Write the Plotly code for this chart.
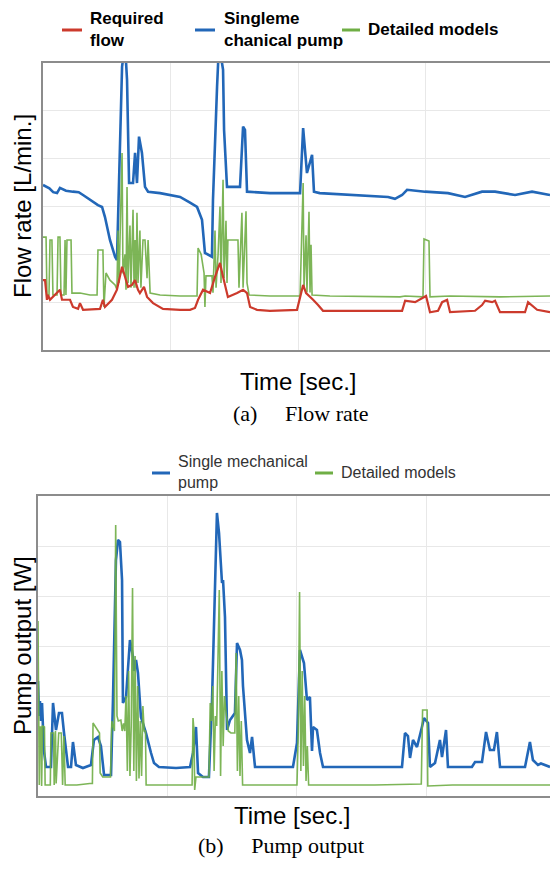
import plotly.graph_objects as go

# ---------------- Data (time in s, values in axis units 0-6) ----------------
# (a) Flow rate
flow_required = [(0, 1.46), (1.6, 1.46), (3.1, 1.05), (3.9, 1.15), (5.5, 1.05), (13.3, 1.26), (14.9, 1.05),
                 (21.2, 1.05), (23.5, 0.90), (27.5, 0.86), (29, 0.98), (31.4, 0.84), (44.7, 0.86), (47, 1.05),
                 (48.6, 0.90), (54.1, 1.05), (58, 1.26), (62, 1.74), (64.3, 1.53), (66.7, 1.32), (69.8, 1.36),
                 (72.2, 1.46), (74.5, 1.26), (76, 1.19), (79.2, 1.32), (81.6, 1.11), (86.3, 0.98), (94.1, 0.86),
                 (107.5, 0.84), (115.3, 0.84), (119.2, 0.88), (121.6, 1.05), (125.5, 1.26), (131, 1.19),
                 (134.9, 1.53), (138.8, 1.82), (141.2, 1.53), (145, 1.11), (152.2, 1.19), (156.9, 1.26),
                 (160, 1.19), (162.4, 0.90), (167.8, 0.84), (178, 0.82), (199.2, 0.84), (204, 1.36),
                 (206.3, 1.19), (208, 1.15), (211.8, 1.05), (215.7, 0.94), (219.6, 0.82), (281.6, 0.82),
                 (284, 1.03), (291.8, 1.00), (298, 1.09), (300.4, 1.13), (303.5, 0.79), (309.8, 0.82),
                 (313, 1.00), (316.9, 1.05), (319.2, 0.79), (338.8, 0.82), (344.3, 0.94), (346.7, 1.03),
                 (352.2, 1.00), (354.5, 1.03), (358.4, 0.79), (378, 0.79), (380.4, 1.00), (387.5, 0.84),
                 (397.6, 0.79)]

flow_single = [(0, 3.45), (5, 3.38), (8, 3.30), (11, 3.28), (13.3, 3.39), (18, 3.33), (23.5, 3.31), (28, 3.30),
               (31.4, 3.24), (36.9, 3.14), (40, 3.10), (43.1, 3.03), (46.3, 2.99), (48.6, 2.78), (52.5, 2.30),
               (56.5, 1.95), (58, 1.88), (59.5, 3.6), (62, 5.92), (64.3, 6.4), (65.9, 5.65), (67.5, 3.49),
               (70.6, 3.49), (72.2, 4.12), (73.7, 3.49), (75.3, 4.46), (77.6, 4.12), (80, 3.41), (82.4, 3.31),
               (91.8, 3.28), (107.5, 3.20), (115.3, 3.08), (120.8, 2.99), (124.7, 2.72), (127, 2.03),
               (132.5, 1.95), (133.3, 3.14), (136.5, 5.50), (138, 6.4), (141.2, 5.86), (142, 4.60),
               (144.3, 3.41), (154.5, 3.41), (156.9, 4.67), (158.4, 4.60), (160, 3.31), (178, 3.28),
               (201.6, 3.28), (204, 4.64), (207, 3.70), (211, 4.08), (212.5, 3.31), (217, 3.28),
               (270.6, 3.20), (276, 3.16), (281.6, 3.24), (285.5, 3.35), (299.6, 3.31), (317.6, 3.28),
               (331, 3.20), (344.3, 3.31), (354.5, 3.31), (370.2, 3.24), (383.5, 3.31), (397.6, 3.24)]

flow_detailed = [(0, 2.36), (2.4, 2.36), (3.1, 1.15), (4.7, 1.15), (5.5, 2.30), (7.0, 2.30), (7.8, 1.15),
                 (11.0, 1.15), (11.8, 2.36), (13.3, 2.36), (14.1, 1.15), (16.5, 1.15), (17.3, 2.30),
                 (18.0, 1.15), (18.8, 2.30), (22.0, 2.30), (22.7, 1.19), (29.0, 1.19), (36.9, 1.15),
                 (42.4, 1.15), (43.1, 2.09), (47.0, 2.09), (47.8, 0.90), (49.4, 1.61), (52.5, 1.46),
                 (56.5, 1.36), (58.0, 1.26), (58.8, 2.5), (59.6, 1.4), (61.2, 3.0), (62.0, 4.12), (62.7, 1.6),
                 (64.3, 2.0), (65.1, 1.26), (65.9, 3.41), (66.7, 1.4), (68.2, 2.6), (69.0, 1.3), (70.6, 2.93),
                 (71.4, 1.3), (72.2, 2.3), (73.0, 1.3), (73.7, 2.87), (74.5, 1.4), (76.0, 2.5), (76.8, 1.3),
                 (78.4, 2.3), (80.0, 2.3), (81.6, 1.5), (82.4, 2.3), (84.0, 1.19), (91.8, 1.15),
                 (107.5, 1.13), (120.8, 1.13), (121.6, 2.13), (124.0, 2.0), (126.3, 1.61), (127.0, 0.90),
                 (127.8, 1.55), (132.5, 1.55), (133.3, 1.2), (134.9, 2.5), (135.7, 1.3), (137.3, 2.0),
                 (138.8, 3.0), (139.6, 1.4), (141.2, 3.56), (142.0, 1.5), (143.5, 2.7), (144.3, 1.4),
                 (145.0, 2.3), (152.9, 2.3), (153.7, 1.3), (156.0, 2.87), (156.9, 1.3), (159.2, 2.9),
                 (160.0, 1.4), (161.6, 1.15), (178.0, 1.13), (201.6, 1.13), (203.1, 2.5), (204.0, 3.49),
                 (204.7, 1.3), (206.3, 2.4), (207.0, 1.2), (208.6, 2.89), (209.4, 1.2), (210.2, 2.2),
                 (211.0, 1.15), (225.0, 1.13), (280.0, 1.11), (284.0, 1.13), (298.0, 1.11), (298.8, 2.32),
                 (302.7, 2.28), (303.5, 1.11), (319.2, 1.13), (358.4, 1.11), (397.6, 1.13)]

# (b) Pump output
power_single = [(0, 2.3), (0.8, 1.6), (1.5, 1.9), (2.3, 1.5), (3.1, 1.86), (4.6, 0.9), (6.2, 0.58), (10, 0.58),
                (11.6, 1.86), (13.9, 1.32), (16.2, 1.66), (18.5, 1.66), (20.1, 1.26), (23.2, 0.58),
                (25.5, 0.58), (27, 1.08), (29.3, 0.62), (34.7, 0.56), (40.9, 0.62), (43.2, 1.12),
                (46.3, 1.18), (48.6, 1.0), (51, 0.42), (56.4, 0.42), (57.9, 1.92), (60.2, 4.72),
                (61.8, 5.12), (63.3, 5.08), (64.9, 4.32), (65.6, 1.86), (68, 1.98), (71, 3.12), (73.4, 2.78),
                (74.1, 2.5), (75.7, 2.72), (77.2, 2.46), (79.5, 1.58), (83.4, 1.26), (87.3, 0.86),
                (89.6, 0.66), (93.4, 0.58), (106.6, 0.56), (117.4, 0.58), (119.7, 0.86), (122, 1.38),
                (123.6, 0.46), (127.4, 0.38), (132, 0.38), (134.4, 1.92), (136.7, 4.58), (138.2, 5.66),
                (139.8, 5.26), (142.1, 4.26), (142.9, 4.32), (144.4, 3.58), (146, 1.32), (148.3, 1.52),
                (152.1, 1.66), (153.7, 3.06), (156, 2.92), (157.5, 2.72), (158.3, 2.2), (161.4, 1.12),
                (163.7, 0.86), (165.3, 1.18), (167.6, 0.58), (196.9, 0.58), (200, 1.06), (202.3, 2.92),
                (205.4, 2.66), (207.7, 1.92), (210, 1.98), (211.6, 0.9), (212.4, 1.38), (215.4, 1.32),
                (217.8, 0.86), (220.1, 0.58), (281.1, 0.58), (283.4, 1.26), (285.7, 1.2), (287.3, 0.76),
                (289.6, 1.12), (292.7, 0.98), (296.5, 1.38), (298.1, 1.56), (301.2, 1.46), (302.7, 0.58),
                (306.6, 0.66), (310.4, 1.12), (312, 0.78), (315.1, 1.32), (316.6, 0.58), (335.1, 0.58),
                (337.5, 0.68), (342.9, 0.68), (346, 1.28), (349, 0.92), (352.1, 0.92), (354.4, 1.28),
                (356.8, 0.58), (376.1, 0.58), (379.9, 1.08), (382.2, 0.72), (386.1, 0.62), (388.4, 0.65),
                (395.4, 0.58)]

power_detailed = [(0, 3.5), (0.5, 1.4), (1, 0.22), (1.5, 1.38), (2.3, 1.38), (2.8, 0.2), (3.5, 1.4), (5, 1.38),
                  (5.5, 0.22), (9.5, 0.22), (10, 1.26), (12, 1.26), (12.5, 0.22), (13.5, 1.3), (14, 0.25),
                  (16, 1.26), (18, 1.26), (19, 0.22), (20, 1.2), (21, 0.22), (30, 0.22), (40, 0.25), (42, 0.25),
                  (42.5, 1.46), (46, 1.3), (47.5, 1.26), (48, 0.46), (50, 0.38), (56, 0.38), (57, 1.5),
                  (59, 1.3), (60, 5.42), (61, 1.6), (62, 1.5), (64, 1.52), (65, 1.3), (66, 1.45), (67, 1.3),
                  (68, 2.0), (69, 0.5), (70, 2.5), (71, 0.4), (72, 1.4), (73, 4.16), (74, 0.5), (75, 2.8),
                  (76, 0.3), (77, 2.2), (78, 0.35), (79, 1.5), (80, 0.4), (81, 1.8), (82, 1.3), (83, 1.3),
                  (83.5, 0.22), (90, 0.22), (100, 0.22), (119, 0.22), (119.7, 1.56), (120.5, 1.3),
                  (121, 0.12), (122, 0.38), (132, 0.38), (133, 1.86), (134, 1.5), (135, 2.2), (136, 0.5),
                  (137, 1.6), (138, 1.4), (139, 3.0), (140, 4.12), (141, 0.4), (142, 2.5), (143, 1.0),
                  (144, 2.0), (145, 1.72), (147, 1.3), (149, 1.26), (152, 1.26), (153, 2.86), (154, 0.5),
                  (155, 2.0), (156, 0.4), (157, 1.5), (158, 0.22), (160, 0.22), (200, 0.22), (201, 1.3),
                  (202, 4.08), (203, 0.5), (204, 2.5), (205, 0.6), (206, 2.0), (207, 0.3), (208, 1.0),
                  (209, 0.22), (260, 0.22), (296, 0.24), (297, 1.72), (300.5, 1.72), (301, 0.2), (320, 0.22),
                  (395.4, 0.22)]

# legend labels
top_labels = ["Required<br>flow", "Singleme<br>chanical pump", "Detailed models"]
bottom_labels = ["Single mechanical<br>pump", "Detailed models"]

RED = "#cc3a2c"
BLUE = "#2267b8"
GREEN = "#6fae45"


def split(pairs):
    return [p[0] for p in pairs], [p[1] for p in pairs]


W, H = 550, 871
fig = go.Figure()

t, v = split(flow_single)
fig.add_trace(go.Scatter(x=t, y=v, mode="lines", name="Singleme chanical pump",
                         line=dict(color=BLUE, width=2.6), xaxis="x", yaxis="y"))
t, v = split(flow_detailed)
fig.add_trace(go.Scatter(x=t, y=v, mode="lines", name="Detailed models",
                         line=dict(color=GREEN, width=1.6), opacity=0.9, xaxis="x", yaxis="y"))
t, v = split(flow_required)
fig.add_trace(go.Scatter(x=t, y=v, mode="lines", name="Required flow",
                         line=dict(color=RED, width=2.2), xaxis="x", yaxis="y"))

t, v = split(power_single)
fig.add_trace(go.Scatter(x=t, y=v, mode="lines", name="Single mechanical pump",
                         line=dict(color=BLUE, width=2.6), xaxis="x2", yaxis="y2"))
t, v = split(power_detailed)
fig.add_trace(go.Scatter(x=t, y=v, mode="lines", name="Detailed models",
                         line=dict(color=GREEN, width=1.6), opacity=0.9, xaxis="x2", yaxis="y2"))

grid = "#e8e8e8"
frame = "#8c8c8c"
common_x = dict(dtick=100, showticklabels=False, showgrid=True, gridcolor=grid, gridwidth=1, showline=True,
                linecolor=frame, linewidth=2, mirror=True, zeroline=False, ticks="")
common_y = dict(range=[0, 6], dtick=1, showticklabels=False, showgrid=True, gridcolor=grid, gridwidth=1,
                showline=True, linecolor=frame, linewidth=2, mirror=False, zeroline=False, ticks="")

sans = "Liberation Sans, Arial, Helvetica, sans-serif"
serif = "Liberation Serif, Times New Roman, serif"


def px_x(p):
    return p / W


def px_y(p):
    return 1 - p / H


fig.update_layout(
    width=W, height=H, margin=dict(l=0, r=0, t=0, b=0),
    paper_bgcolor="white", plot_bgcolor="white", showlegend=False,
    xaxis=dict(domain=[px_x(43), 1], range=[0, 397.6], anchor="y", **common_x),
    yaxis=dict(domain=[px_y(350), px_y(63)], anchor="x", **common_y),
    xaxis2=dict(domain=[px_x(38), 1], range=[0, 395.4], anchor="y2", **common_x),
    yaxis2=dict(domain=[px_y(796), px_y(496)], anchor="x2", **common_y),
)

ann = [
    dict(text="Flow rate [L/min.]", x=px_x(22), y=px_y(206), textangle=-90, font=dict(family=sans, size=24)),
    dict(text="Time [sec.]", x=px_x(298), y=px_y(381), font=dict(family=sans, size=24)),
    dict(text="(a)\u00a0\u00a0\u00a0\u00a0\u00a0Flow rate", x=px_x(301), y=px_y(413),
         font=dict(family=serif, size=22)),
    dict(text="Pump output [W]", x=px_x(22), y=px_y(646), textangle=-90, font=dict(family=sans, size=24)),
    dict(text="Time [sec.]", x=px_x(292), y=px_y(815), font=dict(family=sans, size=24)),
    dict(text="(b)\u00a0\u00a0\u00a0\u00a0\u00a0Pump output", x=px_x(281), y=px_y(845),
         font=dict(family=serif, size=22)),
]
for a in ann:
    a.update(xanchor="center")

# custom legends (short swatches as in the reference)
top_leg = [(62, 82, 88, RED), (195, 215, 222, BLUE), (342, 360, 366, GREEN)]
shapes = []
for (x0, x1, xt, col), lab in zip(top_leg, top_labels):
    shapes.append(dict(type="line", xref="paper", yref="paper", x0=px_x(x0), x1=px_x(x1),
                       y0=px_y(30), y1=px_y(30), line=dict(color=col, width=3)))
    ann.append(dict(text=lab, x=px_x(xt), y=px_y(30), xanchor="left", align="left",
                    font=dict(family=sans, size=17, weight="bold")))
bot_leg = [(152, 170, 176, BLUE), (315, 333, 339, GREEN)]
for (x0, x1, xt, col), lab in zip(bot_leg, bottom_labels):
    shapes.append(dict(type="line", xref="paper", yref="paper", x0=px_x(x0), x1=px_x(x1),
                       y0=px_y(473), y1=px_y(473), line=dict(color=col, width=3)))
    ann.append(dict(text=lab, x=px_x(xt), y=px_y(472), xanchor="left", align="left",
                    font=dict(family=sans, size=16, color="#333333")))

for a in ann:
    a.update(xref="paper", yref="paper", showarrow=False, yanchor="middle")
    a["font"].setdefault("color", "black")
fig.update_layout(annotations=ann, shapes=shapes)

fig.write_html("out.html")
